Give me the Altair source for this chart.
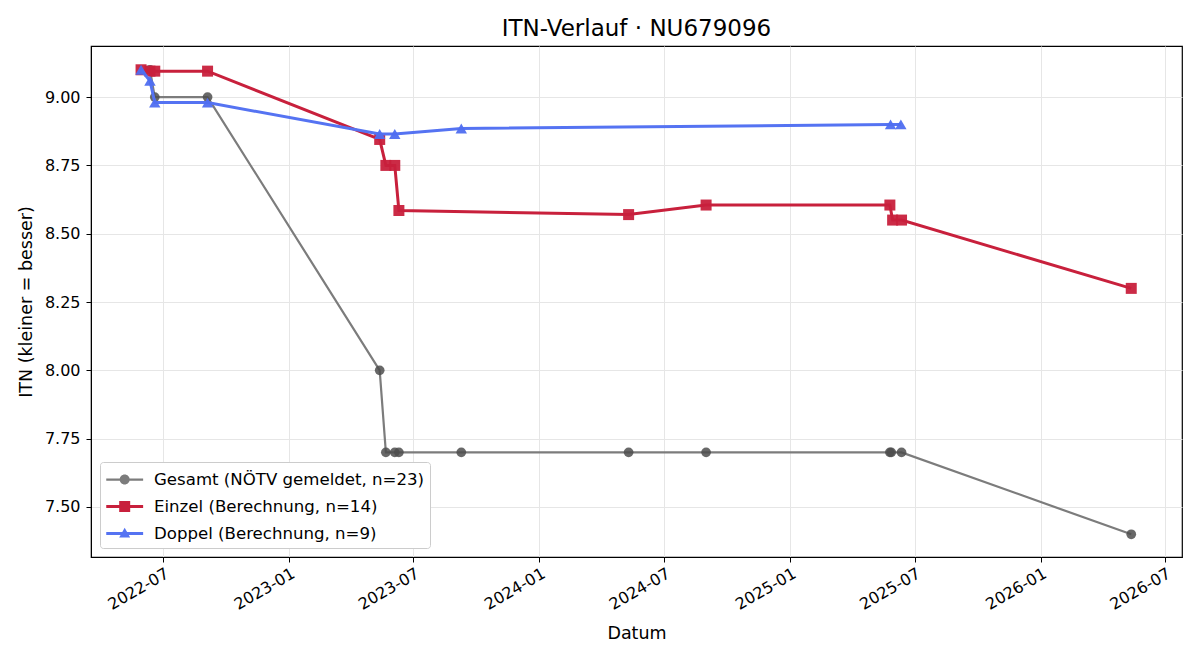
import altair as alt
import pandas as pd

# Gesamt ITN as reported (NÖTV)
gesamt_dates = ["2022-06-12", "2022-06-19", "2022-09-04", "2023-05-13", "2023-05-22",
                "2023-06-04", "2023-06-10", "2023-09-09", "2024-05-10", "2024-08-31",
                "2025-05-26", "2025-05-28", "2025-06-12", "2026-05-13"]
gesamt_vals = [9.10, 9.00, 9.00, 8.00, 7.70, 7.70, 7.70, 7.70, 7.70, 7.70, 7.70, 7.70, 7.70, 7.40]

# Einzel ITN (computed)
einzel_dates = ["2022-05-30", "2022-06-12", "2022-06-19", "2022-09-04", "2023-05-13",
                "2023-05-22", "2023-06-04", "2023-06-10", "2024-05-10", "2024-08-31",
                "2025-05-26", "2025-05-30", "2025-06-12", "2026-05-13"]
einzel_vals = [9.10, 9.095, 9.095, 9.095, 8.845, 8.75, 8.75, 8.585, 8.57, 8.605,
               8.605, 8.55, 8.55, 8.30]

# Doppel ITN (computed)
doppel_dates = ["2022-05-30", "2022-06-12", "2022-06-19", "2022-09-04", "2023-05-13",
                "2023-06-04", "2023-09-09", "2025-05-27", "2025-06-11"]
doppel_vals = [9.10, 9.06, 8.98, 8.98, 8.865, 8.865, 8.885, 8.90, 8.90]

series_names = ["Gesamt (NÖTV gemeldet, n=23)",
                "Einzel (Berechnung, n=14)",
                "Doppel (Berechnung, n=9)"]
series_colors = ["#4d4d4d", "#c8203c", "#4f6ef0"]
line_colors = ["#7c7c7c", "#c8203c", "#5573f2"]

x_ticks = ["2022-07-01", "2023-01-01", "2023-07-01", "2024-01-01", "2024-07-01",
           "2025-01-01", "2025-07-01", "2026-01-01", "2026-07-01"]
y_ticks = [7.50, 7.75, 8.00, 8.25, 8.50, 8.75, 9.00]

frames = []
for name, ds, vs in zip(series_names, [gesamt_dates, einzel_dates, doppel_dates],
                        [gesamt_vals, einzel_vals, doppel_vals]):
    frames.append(pd.DataFrame({"Datum": ds, "ITN": vs, "Serie": name}))
df = pd.concat(frames, ignore_index=True)


def dt(s):
    y, m, d = (int(p) for p in s.split("-"))
    return alt.DateTime(year=y, month=m, date=d, utc=True)


x_enc = alt.X(
    "Datum:T",
    title="Datum",
    scale=alt.Scale(type="utc", domain=[dt("2022-03-18"), dt("2026-07-26")], nice=False),
    axis=alt.Axis(values=[dt(t) for t in x_ticks], format="%Y-%m",
                  labelAngle=-30, labelAlign="right", labelBaseline="top",
                  labelPadding=3, titlePadding=12),
)
y_enc = alt.Y(
    "ITN:Q",
    title="ITN  (kleiner = besser)",
    scale=alt.Scale(domain=[7.317, 9.187], nice=False, zero=False),
    axis=alt.Axis(values=y_ticks, format=".2f", labelPadding=6, titlePadding=9),
)

styles = [
    dict(shape="circle", size=95, width=2.2, pt_opacity=0.85),
    dict(shape="square", size=121, width=3.0, pt_opacity=0.95),
    dict(shape="triangle-up", size=130, width=3.0, pt_opacity=0.95),
]

layers = []
for name, pc, lc, st in zip(series_names, series_colors, line_colors, styles):
    base = alt.Chart(df).transform_filter(alt.datum.Serie == name)
    layers.append(base.mark_line(color=lc, strokeWidth=st["width"]).encode(x=x_enc, y=y_enc))
    layers.append(base.mark_point(shape=st["shape"], filled=True, color=pc,
                                  size=st["size"], opacity=st["pt_opacity"])
                  .encode(x=x_enc, y=y_enc))

# legend symbols: a short line with the series marker in the middle
legend_shapes = [
    "M-0.9,-0.09H2.05V0.09H-0.9Z "
    "M0.975,0A0.4,0.4 0 1,1 0.175,0A0.4,0.4 0 1,1 0.975,0Z",
    "M-0.9,-0.12H2.05V0.12H-0.9Z M0.135,-0.44H1.015V0.44H0.135Z",
    "M-0.9,-0.12H2.05V0.12H-0.9Z M0.575,-0.46L1.015,0.32H0.135Z",
]
legend_layer = alt.Chart(df).mark_point(filled=True, opacity=0).encode(
    x=x_enc, y=y_enc,
    color=alt.Color("Serie:N", sort=series_names,
                    scale=alt.Scale(domain=series_names, range=line_colors),
                    legend=alt.Legend(title=None, orient="bottom-left", offset=9,
                                      symbolSize=625, symbolOpacity=1,
                                      symbolStrokeWidth=0, labelFontSize=16.6,
                                      labelFont="DejaVu Sans", labelColor="black",
                                      rowPadding=5, labelOffset=24,
                                      strokeColor="#cccccc", fillColor="white",
                                      padding=5, cornerRadius=3, labelLimit=400)),
    shape=alt.Shape("Serie:N", sort=series_names,
                    scale=alt.Scale(domain=series_names, range=legend_shapes),
                    legend=None),
)

chart = alt.layer(*layers, legend_layer).properties(
    width=1091,
    height=511,
    background="white",
    title=alt.Title("ITN-Verlauf · NU679096", fontSize=23, font="DejaVu Sans",
                    fontWeight="normal", anchor="middle", offset=5, color="black"),
    autosize=alt.AutoSizeParams(type="none"),
    padding={"left": 91, "top": 46, "right": 18, "bottom": 103},
).configure_view(stroke="black", strokeWidth=1.2).configure_axis(
    labelFont="DejaVu Sans", titleFont="DejaVu Sans", labelFontSize=16,
    titleFontSize=17.5, titleFontWeight="normal", labelColor="black",
    titleColor="black", domainColor="black", tickColor="black", tickSize=5,
    gridColor="#e6e6e6", gridWidth=1,
)

chart.save("out.html", embed_options={"renderer": "svg", "actions": False})
